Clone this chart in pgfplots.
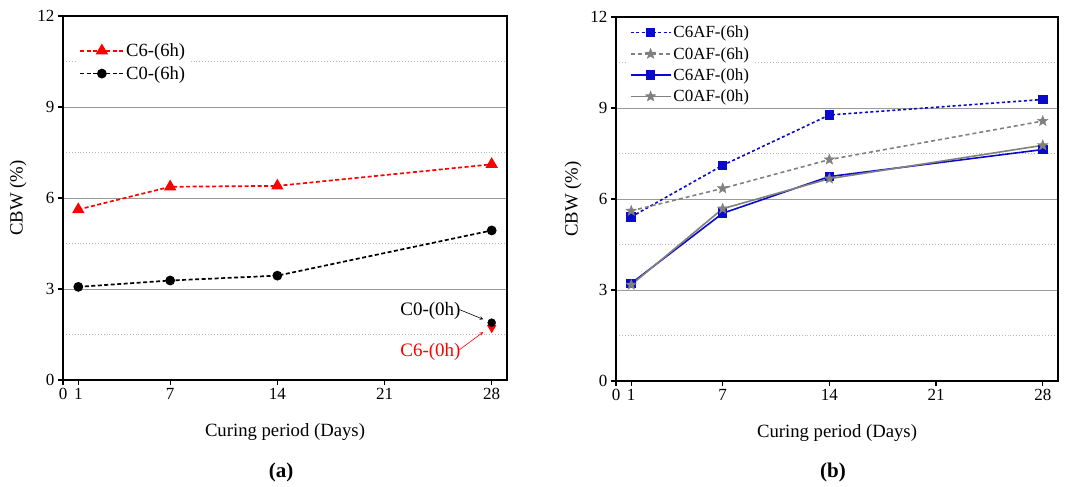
\documentclass[border=0pt]{standalone}
\usepackage{fontspec}
\setmainfont{Liberation Serif}
\usepackage{pgfplots}
\pgfplotsset{compat=1.18}

\definecolor{cred}{RGB}{255,0,0}
\definecolor{cblue}{RGB}{10,10,205}
\definecolor{cgray}{RGB}{128,128,128}
\definecolor{majgrid}{RGB}{155,155,155}
\definecolor{mingrid}{RGB}{185,185,185}

% filled five-pointed star
\pgfdeclareplotmark{fstar}{%
  \pgfpathmoveto{\pgfpointpolar{90}{\pgfplotmarksize}}%
  \pgfpathlineto{\pgfpointpolar{126}{0.42\pgfplotmarksize}}%
  \pgfpathlineto{\pgfpointpolar{162}{\pgfplotmarksize}}%
  \pgfpathlineto{\pgfpointpolar{198}{0.42\pgfplotmarksize}}%
  \pgfpathlineto{\pgfpointpolar{234}{\pgfplotmarksize}}%
  \pgfpathlineto{\pgfpointpolar{270}{0.42\pgfplotmarksize}}%
  \pgfpathlineto{\pgfpointpolar{306}{\pgfplotmarksize}}%
  \pgfpathlineto{\pgfpointpolar{342}{0.42\pgfplotmarksize}}%
  \pgfpathlineto{\pgfpointpolar{18}{\pgfplotmarksize}}%
  \pgfpathlineto{\pgfpointpolar{54}{0.42\pgfplotmarksize}}%
  \pgfpathclose\pgfusepathqfillstroke}

\pgfplotsset{
  cbw/.style={
    scale only axis, height=364pt, anchor=south west,
    xmin=0, xmax=29, ymin=0, ymax=12,
    xtick={0,1,7,14,21,28}, ytick={0,3,6,9,12},
    minor ytick={1.5,4.5,7.5,10.5},
    ymajorgrids, yminorgrids,
    major grid style={majgrid, line width=0.9pt},
    minor grid style={mingrid, line width=0.9pt, dotted},
    tick align=outside, tick pos=left,
    major tick length=5pt, minor tick length=0pt,
    axis line style={line width=1.5pt},
    every tick/.style={black, line width=1.3pt},
    tick label style={font=\fontsize{17}{17}\selectfont},
    /pgf/number format/assume math mode=true,
    xlabel={Curing period (Days)}, ylabel={CBW (\%)},
    label style={font=\fontsize{18.7}{19}\selectfont},
    xlabel style={at={(axis description cs:0.5,-0.143)}, anchor=center},
    legend cell align=left,
  },
}

\begin{document}
\begin{tikzpicture}
\useasboundingbox (0,0) rectangle (1065pt,487pt);

% ---- (a)
\begin{axis}[cbw, width=444pt, at={(63pt,107pt)},
  ylabel style={at={(axis description cs:-0.101,0.5)}, anchor=center},
  legend style={at={(axis description cs:0.03,0.936)}, anchor=north west,
    draw=none, fill=white, font=\fontsize{18.6}{19}\selectfont, row sep=4.5pt},
  legend image code/.code={\draw[mark repeat=2,mark phase=2,#1]
    plot coordinates {(0pt,0pt) (21.5pt,0pt) (43pt,0pt)};}]
\addplot[cred, line width=1.7pt, dash pattern=on 4pt off 2.5pt, mark=triangle*, mark size=5.5pt, mark options={solid}]
  coordinates {(1,5.62) (7,6.37) (14,6.40) (28,7.11)};
\addlegendentry{C6-(6h)}
\addplot[black, line width=1.7pt, dash pattern=on 4pt off 2.5pt, mark=*, mark size=4pt, mark options={solid}]
  coordinates {(1,3.07) (7,3.28) (14,3.44) (28,4.93)};
\addlegendentry{C0-(6h)}
\addplot[only marks, cred, mark=triangle*, mark size=5pt, mark options={rotate=180}, forget plot]
  coordinates {(28,1.72)};
\addplot[only marks, black, mark=*, mark size=4pt, forget plot]
  coordinates {(28,1.89)};
\node[font=\fontsize{19}{19}\selectfont] at (axis cs:24,2.27) {C0-(0h)};
\node[font=\fontsize{19}{19}\selectfont, text=cred] at (axis cs:24,0.93) {C6-(0h)};
\draw[-stealth, black, line width=0.6pt] (axis cs:25.9,2.32) -- (axis cs:27.45,2.0);
\draw[-stealth, cred, line width=0.6pt] (axis cs:25.9,1.0) -- (axis cs:27.45,1.58);
\end{axis}

% ---- (b)
\begin{axis}[cbw, width=442pt, at={(616pt,106pt)},
  ylabel style={at={(axis description cs:-0.097,0.5)}, anchor=center},
  legend style={at={(axis description cs:0.024,0.987)}, anchor=north west,
    draw=none, fill=white, font=\fontsize{17}{17}\selectfont, row sep=4pt},
  legend image code/.code={\draw[mark repeat=2,mark phase=2,#1]
    plot coordinates {(0pt,0pt) (20pt,0pt) (40pt,0pt)};}]
\addplot[cblue, line width=1.6pt, dash pattern=on 3pt off 2.5pt, mark=square*, mark size=4pt, mark options={solid}]
  coordinates {(1,5.41) (7,7.11) (14,8.77) (28,9.28)};
\addlegendentry{C6AF-(6h)}
\addplot[cgray, line width=1.6pt, dash pattern=on 4pt off 3pt, mark=fstar, mark size=5.5pt, mark options={solid, line width=0.4pt}]
  coordinates {(1,5.61) (7,6.35) (14,7.30) (28,8.57)};
\addlegendentry{C0AF-(6h)}
\addplot[cblue, line width=1.6pt, mark=square*, mark size=4pt]
  coordinates {(1,3.22) (7,5.53) (14,6.74) (28,7.63)};
\addlegendentry{C6AF-(0h)}
\addplot[cgray, line width=1.6pt, mark=fstar, mark size=5.5pt, mark options={line width=0.4pt}]
  coordinates {(1,3.17) (7,5.68) (14,6.67) (28,7.77)};
\addlegendentry{C0AF-(0h)}
\end{axis}

\node[font=\bfseries\fontsize{21}{21}\selectfont] at (281pt,15pt) {(a)};
\node[font=\bfseries\fontsize{21}{21}\selectfont] at (833pt,15pt) {(b)};
\end{tikzpicture}
\end{document}
